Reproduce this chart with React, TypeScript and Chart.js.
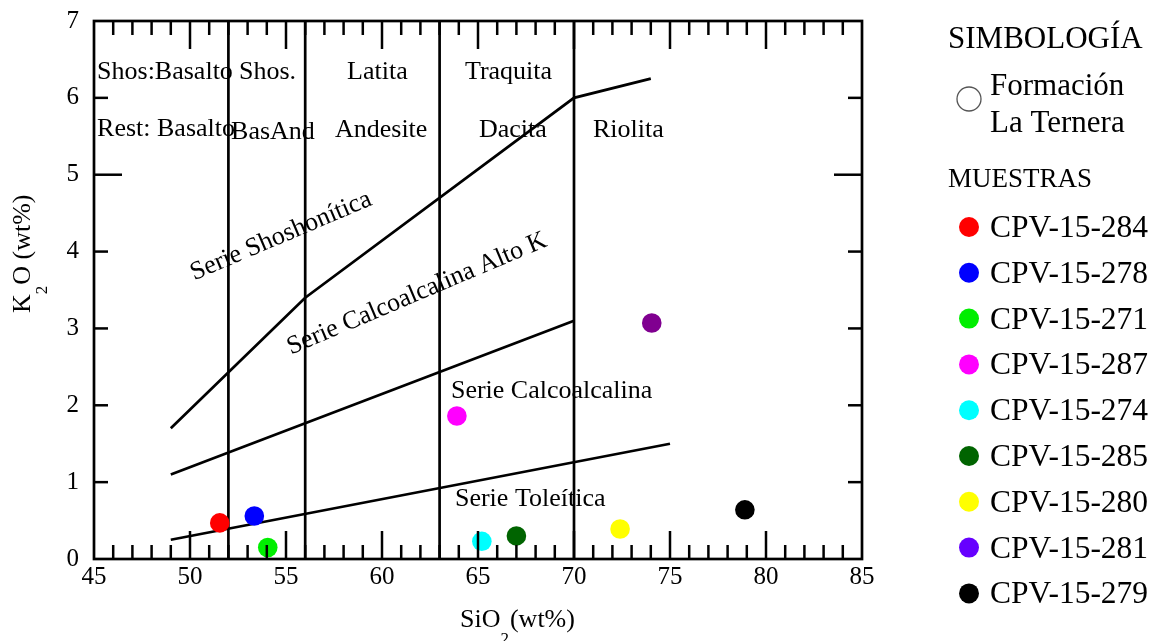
import { useEffect, useRef } from "react";
import { Chart, registerables } from "chart.js";

Chart.register(...registerables);

// Sample analyses (SiO2 vs K2O, wt%)
const sampleNames = [
  "CPV-15-284",
  "CPV-15-278",
  "CPV-15-271",
  "CPV-15-287",
  "CPV-15-274",
  "CPV-15-285",
  "CPV-15-280",
  "CPV-15-281",
  "CPV-15-279",
];
const sio2 = [51.55, 53.35, 54.05, 63.9, 65.2, 67.0, 72.4, 74.05, 78.9];
const k2o = [0.47, 0.56, 0.15, 1.86, 0.23, 0.3, 0.39, 3.07, 0.64];
const pointColors = [
  "#ff0000",
  "#0000ff",
  "#00ee00",
  "#ff00ff",
  "#00ffff",
  "#006400",
  "#ffff00",
  "#800090",
  "#000000",
];
const legendColors = [
  "#ff0000",
  "#0000ff",
  "#00ee00",
  "#ff00ff",
  "#00ffff",
  "#006400",
  "#ffff00",
  "#6600ff",
  "#000000",
];

// Series boundaries
const shoshoniticX = [49, 56, 70, 74];
const shoshoniticY = [1.7, 3.4, 6.0, 6.25];
const highKX = [49, 70];
const highKY = [1.1, 3.1];
const tholeiiticX = [49, 75];
const tholeiiticY = [0.25, 1.5];

// Rock-name dividers on SiO2
const rockDividers = [52, 56, 63, 70];

// Axis ranges
const xMin = 45;
const xMax = 85;
const yMin = 0;
const yMax = 7;

// Rock-field names (left edge x, baseline y, in data units)
const fieldNames = [
  "Shos:Basalto",
  "Shos.",
  "Latita",
  "Traquita",
  "Rest: Basalto",
  "BasAnd",
  "Andesite",
  "Dacita",
  "Riolita",
];
const fieldNameX = [45.16, 52.55, 58.18, 64.32, 45.16, 52.14, 57.55, 65.05, 70.99];
const fieldNameY = [6.245, 6.245, 6.245, 6.245, 5.5, 5.47, 5.49, 5.49, 5.49];

// Series names
const seriesNames = ["Serie Shoshonítica", "Serie Calcoalcalina Alto K", "Serie Calcoalcalina", "Serie Toleítica"];
const seriesNameX = [54.74, 61.82, 63.59, 63.8];
const seriesNameY = [4.2, 3.45, 2.095, 0.69];
const seriesNameRotated = [true, true, false, false];

const FONT = '"Liberation Serif", "Times New Roman", serif';

const toPoints = (xs: number[], ys: number[]) => xs.map((v, i) => ({ x: v, y: ys[i] }));

const overlayPlugin = {
  id: "diagramOverlay",
  afterDatasetsDraw(chart: any) {
    const { ctx, chartArea: a, scales } = chart;
    const sx = scales.x;
    const sy = scales.y;
    ctx.save();

    // frame
    ctx.strokeStyle = "#000";
    ctx.lineWidth = 2.7;
    ctx.strokeRect(a.left, a.top, a.right - a.left, a.bottom - a.top);

    // inward ticks
    ctx.lineWidth = 2.5;
    const seg = (x1: number, y1: number, x2: number, y2: number) => {
      ctx.beginPath();
      ctx.moveTo(x1, y1);
      ctx.lineTo(x2, y2);
      ctx.stroke();
    };
    for (let v = xMin + 1; v < xMax; v++) {
      const px = sx.getPixelForValue(v);
      const len = v % 5 === 0 ? 28 : 14;
      seg(px, a.bottom, px, a.bottom - len);
      seg(px, a.top, px, a.top + len);
    }
    for (let v = yMin + 1; v < yMax; v++) {
      const py = sy.getPixelForValue(v);
      const len = v % 5 === 0 ? 28 : 14;
      seg(a.left, py, a.left + len, py);
      seg(a.right, py, a.right - len, py);
    }

    // field names
    ctx.fillStyle = "#000";
    ctx.font = `26px ${FONT}`;
    ctx.textBaseline = "alphabetic";
    ctx.textAlign = "left";
    fieldNames.forEach((t, i) => {
      ctx.fillText(t, sx.getPixelForValue(fieldNameX[i]), sy.getPixelForValue(fieldNameY[i]));
    });

    // series names
    seriesNames.forEach((t, i) => {
      const px = sx.getPixelForValue(seriesNameX[i]);
      const py = sy.getPixelForValue(seriesNameY[i]);
      if (seriesNameRotated[i]) {
        ctx.save();
        ctx.translate(px, py);
        ctx.rotate((-23 * Math.PI) / 180);
        ctx.textAlign = "center";
        ctx.textBaseline = "middle";
        ctx.fillText(t, 0, 0);
        ctx.restore();
      } else {
        ctx.textAlign = "left";
        ctx.textBaseline = "alphabetic";
        ctx.fillText(t, px, py);
      }
    });

    // axis titles with subscripts
    const drawTitle = (parts: { t: string; sub?: boolean }[]) => {
      let x = 0;
      parts.forEach((p) => {
        ctx.font = p.sub ? `17px ${FONT}` : `26px ${FONT}`;
        ctx.fillText(p.t, x, p.sub ? 17 : 0);
        x += ctx.measureText(p.t).width + (p.sub ? 1 : 0);
      });
    };
    ctx.textAlign = "left";
    ctx.textBaseline = "alphabetic";
    ctx.save();
    ctx.translate(460, 627);
    drawTitle([{ t: "SiO" }, { t: "2", sub: true }, { t: "(wt%)" }]);
    ctx.restore();

    ctx.save();
    ctx.translate(30, 313);
    ctx.rotate(-Math.PI / 2);
    drawTitle([{ t: "K" }, { t: "2", sub: true }, { t: "O (wt%)" }]);
    ctx.restore();

    // legend
    ctx.fillStyle = "#000";
    ctx.font = `31px ${FONT}`;
    ctx.fillText("SIMBOLOGÍA", 948, 48);
    ctx.font = `31px ${FONT}`;
    ctx.fillText("Formación", 990, 95);
    ctx.fillText("La Ternera", 990, 132);
    ctx.beginPath();
    ctx.arc(969, 99, 12, 0, Math.PI * 2);
    ctx.strokeStyle = "#555";
    ctx.lineWidth = 1.3;
    ctx.stroke();
    ctx.font = `27px ${FONT}`;
    ctx.fillText("MUESTRAS", 948, 187);
    ctx.font = `31.5px ${FONT}`;
    sampleNames.forEach((name, i) => {
      const base = 237 + i * 45.8;
      ctx.beginPath();
      ctx.arc(969, base - 10, 10, 0, Math.PI * 2);
      ctx.fillStyle = legendColors[i];
      ctx.fill();
      ctx.fillStyle = "#000";
      ctx.fillText(name, 990, base);
    });

    ctx.restore();
  },
};

export default function App() {
  const canvasRef = useRef<HTMLCanvasElement | null>(null);

  useEffect(() => {
    if (!canvasRef.current) return;
    const lineStyle = {
      type: "line" as const,
      showLine: true,
      borderColor: "#000",
      borderWidth: 2.7,
      pointRadius: 0,
      fill: false,
      tension: 0,
      order: 2,
    };
    const boundaryDatasets = [
      { ...lineStyle, label: "shoshonitic", data: toPoints(shoshoniticX, shoshoniticY) },
      { ...lineStyle, label: "highK", data: toPoints(highKX, highKY) },
      { ...lineStyle, label: "tholeiitic", data: toPoints(tholeiiticX, tholeiiticY) },
      ...rockDividers.map((d) => ({
        ...lineStyle,
        label: `div${d}`,
        data: [
          { x: d, y: yMin },
          { x: d, y: yMax },
        ],
      })),
    ];
    const sampleDatasets = sampleNames.map((name, i) => ({
      type: "scatter" as const,
      label: name,
      data: [{ x: sio2[i], y: k2o[i] }],
      pointRadius: 9.8,
      pointBackgroundColor: pointColors[i],
      pointBorderWidth: 0,
      borderColor: pointColors[i],
      order: 1,
    }));

    const chart = new Chart(canvasRef.current, {
      type: "scatter",
      data: { datasets: [...boundaryDatasets, ...sampleDatasets] as any },
      options: {
        animation: false,
        responsive: false,
        events: [],
        layout: { padding: { left: 0, top: 21, right: 294, bottom: 0 } },
        plugins: { legend: { display: false }, tooltip: { enabled: false } },
        scales: {
          x: {
            type: "linear",
            min: xMin,
            max: xMax,
            grid: { display: false, drawTicks: false },
            border: { display: false },
            ticks: {
              stepSize: 5,
              color: "#000",
              padding: 3,
              font: { family: FONT, size: 25 },
            },
            afterFit: (s: any) => {
              s.height = 82;
              s.paddingLeft = 0;
              s.paddingRight = 0;
            },
          },
          y: {
            type: "linear",
            min: yMin,
            max: yMax,
            grid: { display: false, drawTicks: false },
            border: { display: false },
            ticks: {
              stepSize: 1,
              color: "#000",
              padding: 15,
              font: { family: FONT, size: 25 },
            },
            afterFit: (s: any) => {
              s.width = 94;
              s.paddingTop = 0;
              s.paddingBottom = 0;
            },
          },
        },
      },
      plugins: [overlayPlugin],
    });
    return () => chart.destroy();
  }, []);

  return (
    <div style={{ position: "absolute", left: 0, top: 0, width: 1156, height: 641, background: "#fff" }}>
      <canvas ref={canvasRef} width={1156} height={641} style={{ display: "block" }} />
    </div>
  );
}
